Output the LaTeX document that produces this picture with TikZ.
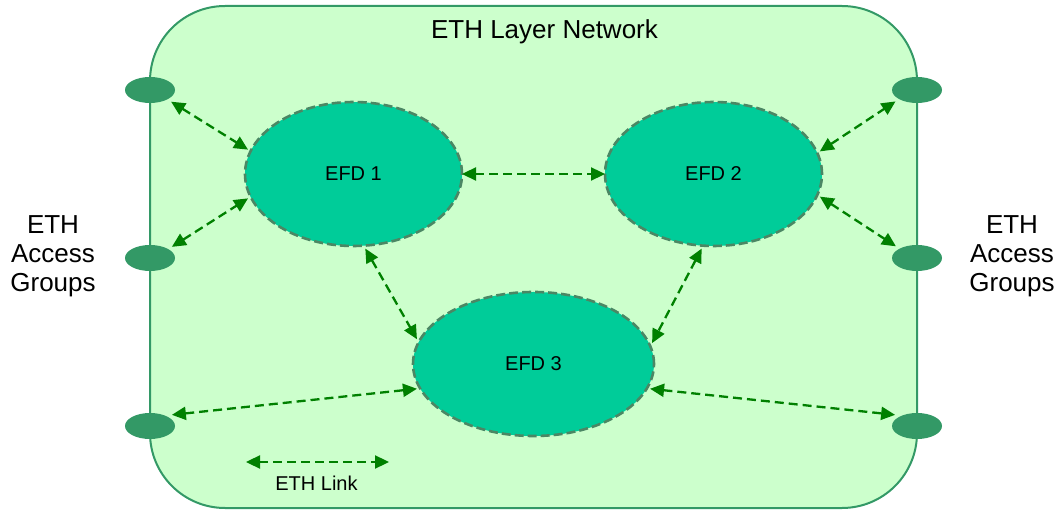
\documentclass[tikz,border=0pt]{standalone}
\usepackage{fontspec}
\setmainfont{Liberation Sans}
\usetikzlibrary{arrows.meta,shapes.geometric}
\definecolor{bgfill}{HTML}{CCFFCC}
\definecolor{bgline}{HTML}{339966}
\definecolor{portfill}{HTML}{339966}
\definecolor{efdfill}{HTML}{00CC99}
\definecolor{efdline}{RGB}{75,135,100}
\definecolor{linkgreen}{HTML}{008000}
\begin{document}
\begin{tikzpicture}[x=1pt,y=-1pt,
  port/.style={ellipse, fill=portfill, minimum width=50pt, minimum height=26pt, inner sep=0pt, outer sep=4pt},
  efd/.style={ellipse, fill=efdfill, draw=efdline, line width=2.6pt, dash pattern=on 9pt off 4pt, minimum height=144pt, inner sep=0pt, outer sep=3pt, font=\fontsize{20}{24}\selectfont},
  link/.style={linkgreen, line width=2.3pt, dash pattern=on 9pt off 5pt, {Triangle[length=14pt,width=13pt]}-{Triangle[length=14pt,width=13pt]}},
  side/.style={align=center, font=\fontsize{26}{29}\selectfont}
]
\useasboundingbox (0,0) rectangle (1058,510);
\draw[fill=bgfill, draw=bgline, line width=2pt, rounded corners=75pt] (150,6) rectangle (917,508);
\node[anchor=base, font=\fontsize{26}{29}\selectfont] (title) at (544.5,39) {ETH Layer Network};
\node[side] (lgroups) at (53,256) {ETH\\Access\\Groups};
\node[side] (rgroups) at (1012,256) {ETH\\Access\\Groups};
\node[port] (l1) at (150,90) {};
\node[port] (l2) at (150,258) {};
\node[port] (l3) at (150,426) {};
\node[port] (r1) at (917,90) {};
\node[port] (r2) at (917,258) {};
\node[port] (r3) at (917,426) {};
\node[efd, minimum width=217pt] (e1) at (353.5,174) {EFD 1};
\node[efd, minimum width=217pt] (e2) at (713.5,174) {EFD 2};
\node[efd, minimum width=241pt] (e3) at (533.5,364) {EFD 3};
\draw[link] (l1.-29.5) -- (e1.167.5);
\draw[link] (l2.27.6) -- (e1.193);
\draw[link, shorten <=-3pt, shorten >=-3pt] (e1.east) -- (e2.west);
\draw[link] (e1.-81) -- (e3.168.7);
\draw[link] (e2.-99) -- (e3.10.4);
\draw[link] (l3.27.6) -- (e3.192.6);
\draw[link] (e3.-12.6) -- (r3.153.4);
\draw[link] (e2.12.5) -- (r1.208.4);
\draw[link] (e2.-12) -- (r2.151.6);
\coordinate (lka) at (246,462);
\coordinate (lkb) at (389,462);
\draw[link] (lka) -- (lkb);
\node[anchor=base, font=\fontsize{20}{24}\selectfont] (lktext) at (316.5,490) {ETH Link};
\end{tikzpicture}
\end{document}
